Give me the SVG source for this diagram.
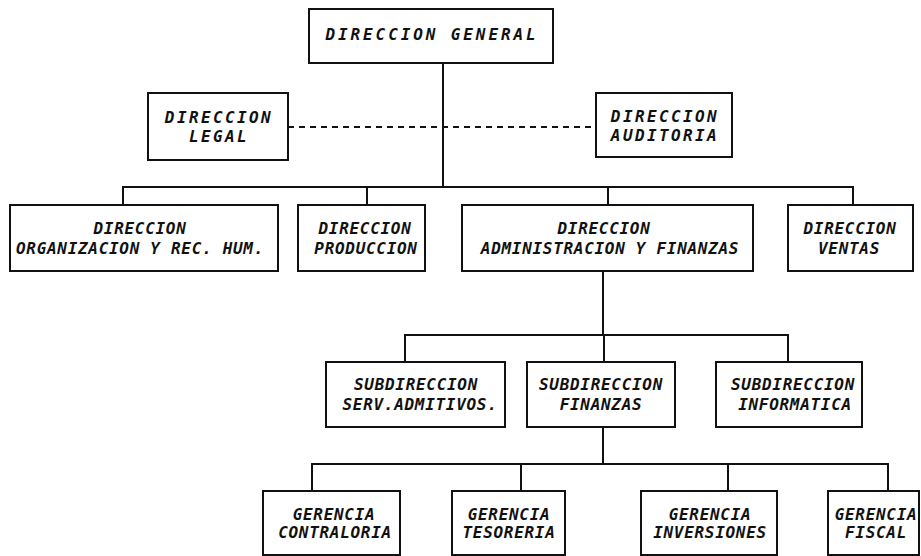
<svg xmlns="http://www.w3.org/2000/svg" width="921" height="556" viewBox="0 0 921 556">
<style>
  .box { fill: #fff; stroke: #111; stroke-width: 2; }
  .lbl { font-family: "DejaVu Sans Mono", "Liberation Mono", monospace; font-weight: bold; font-style: italic; font-size: 16px; fill: #111; text-anchor: middle; letter-spacing: 0.7px; }
  .title { letter-spacing: 2.9px; }
  .wide { letter-spacing: 2.4px; }
  .conn { fill: none; stroke: #111; stroke-width: 2; }
  .dash { fill: none; stroke: #111; stroke-width: 2; stroke-dasharray: 6 5; }
</style>
<rect width="921" height="556" fill="#fff"/>
<g id="connectors">
  <path class="conn" d="M443 63 V187"/>
  <path class="dash" d="M288 127 H596"/>
  <path class="conn" d="M123 205 V187 H853 V205"/>
  <path class="conn" d="M367 187 V205"/>
  <path class="conn" d="M608 187 V205"/>
  <path class="conn" d="M603 271 V335"/>
  <path class="conn" d="M405 362 V335 H788 V362"/>
  <path class="conn" d="M604 335 V362"/>
  <path class="conn" d="M603 427 V464"/>
  <path class="conn" d="M312 491 V464 H888 V491"/>
  <path class="conn" d="M521 464 V491"/>
  <path class="conn" d="M728 464 V491"/>
</g>
<g id="dir-general">
  <rect class="box" x="309" y="9" width="244" height="54"/>
  <text class="lbl title" x="432" y="40">DIRECCION GENERAL</text>
</g>
<g id="dir-legal">
  <rect class="box" x="148" y="93" width="140" height="67"/>
  <text class="lbl wide" x="219" y="123">DIRECCION</text>
  <text class="lbl wide" x="219" y="142">LEGAL</text>
</g>
<g id="dir-auditoria">
  <rect class="box" x="596" y="93" width="136" height="64"/>
  <text class="lbl wide" x="665" y="122">DIRECCION</text>
  <text class="lbl wide" x="665" y="141">AUDITORIA</text>
</g>
<g id="dir-organizacion">
  <rect class="box" x="10" y="205" width="268" height="66"/>
  <text class="lbl" x="140" y="234">DIRECCION</text>
  <text class="lbl" x="140" y="254">ORGANIZACION Y REC. HUM.</text>
</g>
<g id="dir-produccion">
  <rect class="box" x="298" y="205" width="127" height="66"/>
  <text class="lbl" x="365" y="234">DIRECCION</text>
  <text class="lbl" x="366" y="254">PRODUCCION</text>
</g>
<g id="dir-administracion">
  <rect class="box" x="462" y="205" width="291" height="66"/>
  <text class="lbl" x="604" y="234">DIRECCION</text>
  <text class="lbl" x="610" y="254">ADMINISTRACION Y FINANZAS</text>
</g>
<g id="dir-ventas">
  <rect class="box" x="788" y="205" width="125" height="66"/>
  <text class="lbl" x="850" y="234">DIRECCION</text>
  <text class="lbl" x="849" y="254">VENTAS</text>
</g>
<g id="sub-serv">
  <rect class="box" x="326" y="362" width="179" height="65"/>
  <text class="lbl" x="416" y="390">SUBDIRECCION</text>
  <text class="lbl" x="420" y="410">SERV.ADMITIVOS.</text>
</g>
<g id="sub-finanzas">
  <rect class="box" x="527" y="362" width="148" height="65"/>
  <text class="lbl" x="601" y="390">SUBDIRECCION</text>
  <text class="lbl" x="601" y="410">FINANZAS</text>
</g>
<g id="sub-informatica">
  <rect class="box" x="716" y="362" width="146" height="65"/>
  <text class="lbl" x="793" y="390">SUBDIRECCION</text>
  <text class="lbl" x="795" y="410">INFORMATICA</text>
</g>
<g id="ger-contraloria">
  <rect class="box" x="263" y="491" width="137" height="64"/>
  <text class="lbl" x="334" y="520">GERENCIA</text>
  <text class="lbl" x="335" y="538">CONTRALORIA</text>
</g>
<g id="ger-tesoreria">
  <rect class="box" x="452" y="491" width="113" height="64"/>
  <text class="lbl" x="509" y="520">GERENCIA</text>
  <text class="lbl" x="509" y="538">TESORERIA</text>
</g>
<g id="ger-inversiones">
  <rect class="box" x="641" y="491" width="136" height="64"/>
  <text class="lbl" x="710" y="520">GERENCIA</text>
  <text class="lbl" x="710" y="538">INVERSIONES</text>
</g>
<g id="ger-fiscal">
  <rect class="box" x="828" y="491" width="91" height="64"/>
  <text class="lbl" x="876" y="520">GERENCIA</text>
  <text class="lbl" x="876" y="538">FISCAL</text>
</g>
</svg>
